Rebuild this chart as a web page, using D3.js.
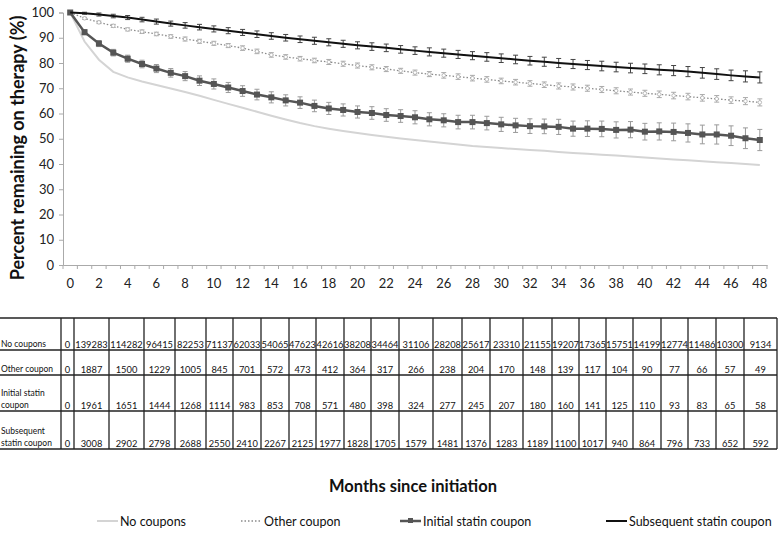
<!DOCTYPE html>
<html>
<head>
<meta charset="utf-8">
<script src="https://cdn.jsdelivr.net/npm/d3@7"></script>
<style>
  body { margin: 0; background: #fff; }
  svg { display: block; font-family: Lato, "Open Sans", sans-serif; }
</style>
</head>
<body>
<div id="chart"></div>
<script>
// months 0..48
var months = d3.range(0, 49);

// percent remaining on therapy
var noCoupons = [100, 88.5, 81.3, 76.5, 74.3, 72.7, 71.3, 69.9, 68.5, 67.0, 65.4, 63.8, 62.3, 60.7, 59.1, 57.6, 56.2,
  55.0, 54.0, 53.1, 52.3, 51.5, 50.8, 50.1, 49.5, 48.9, 48.3, 47.7, 47.1, 46.7, 46.3, 45.9, 45.5,
  45.2, 44.8, 44.4, 44.1, 43.7, 43.4, 43.0, 42.6, 42.2, 41.8, 41.5, 41.1, 40.7, 40.4, 40.0, 39.6];
var otherCoupon = [100, 97.7, 96.1, 94.7, 93.3, 92.4, 91.5, 90.5, 89.5, 88.6, 87.8, 86.9, 85.9, 84.6, 83.2, 82.4, 81.7,
  81.0, 80.4, 79.7, 79.0, 78.3, 77.6, 76.9, 76.2, 75.6, 75.1, 74.6, 74.0, 73.5, 72.9, 72.4, 71.9,
  71.4, 70.9, 70.5, 70.0, 69.5, 69.0, 68.5, 68.0, 67.6, 67.1, 66.7, 66.2, 65.8, 65.3, 64.9, 64.4];
var otherErr = [0, 0.4, 0.5, 0.6, 0.6, 0.7, 0.7, 0.7, 0.8, 0.8, 0.8, 0.8, 0.9, 0.9, 0.9, 0.9, 0.9,
  0.9, 1.0, 1.0, 1.0, 1.0, 1.0, 1.0, 1.0, 1.0, 1.1, 1.1, 1.1, 1.1, 1.1, 1.1, 1.1,
  1.1, 1.2, 1.2, 1.2, 1.2, 1.2, 1.2, 1.2, 1.3, 1.3, 1.3, 1.3, 1.3, 1.3, 1.4, 1.4];
var initialCoupon = [100, 92.2, 87.7, 84.1, 81.7, 79.6, 77.8, 76.1, 74.8, 73.0, 71.7, 70.3, 68.9, 67.5, 66.4, 65.2, 64.3,
  63.0, 62.0, 61.4, 60.6, 60.2, 59.4, 59.0, 58.5, 57.7, 57.3, 56.6, 56.6, 56.2, 55.7, 55.3, 55.0,
  54.9, 54.7, 54.0, 54.0, 53.9, 53.5, 53.6, 52.8, 52.9, 52.7, 52.3, 51.7, 51.7, 51.2, 50.2, 49.5];
var initialErr = [0, 1.0, 1.2, 1.3, 1.4, 1.5, 1.6, 1.7, 1.8, 1.9, 2.0, 2.0, 2.1, 2.1, 2.2, 2.2, 2.3,
  2.3, 2.4, 2.4, 2.4, 2.5, 2.5, 2.5, 2.6, 2.6, 2.6, 2.7, 2.7, 2.7, 2.8, 2.8, 2.9,
  2.9, 3.0, 3.0, 3.1, 3.1, 3.2, 3.2, 3.3, 3.4, 3.5, 3.6, 3.7, 3.8, 3.9, 4.1, 4.2];
var subsequentCoupon = [100, 99.7, 99.2, 98.6, 98.0, 97.2, 96.4, 95.6, 94.9, 94.2, 93.5, 92.8, 92.1, 91.4, 90.7, 90.0, 89.4,
  88.8, 88.2, 87.6, 87.0, 86.5, 86.0, 85.4, 84.9, 84.4, 83.9, 83.4, 82.9, 82.4, 81.9, 81.4, 80.9,
  80.5, 80.0, 79.6, 79.2, 78.8, 78.4, 78.0, 77.7, 77.3, 77.0, 76.6, 76.1, 75.6, 75.1, 74.7, 74.3];
var subsequentErr = [0, 0.4, 0.6, 0.7, 0.8, 0.9, 1.0, 1.0, 1.1, 1.1, 1.2, 1.2, 1.2, 1.3, 1.3, 1.3, 1.3,
  1.4, 1.4, 1.4, 1.4, 1.5, 1.5, 1.5, 1.5, 1.6, 1.6, 1.6, 1.6, 1.7, 1.7, 1.7, 1.7,
  1.8, 1.8, 1.8, 1.8, 1.9, 1.9, 1.9, 1.9, 2.0, 2.0, 2.0, 2.1, 2.1, 2.1, 2.2, 2.2];

var yTicks = [0, 10, 20, 30, 40, 50, 60, 70, 80, 90, 100];

// number at risk table
var rowLabels = [["No coupons"], ["Other coupon"], ["Initial statin", "coupon"], ["Subsequent", "statin coupon"]];
var atRiskNone = [0, 139283, 114282, 96415, 82253, 71137, 62033, 54065, 47623, 42616, 38208, 34464, 31106,
  28208, 25617, 23310, 21155, 19207, 17365, 15751, 14199, 12774, 11486, 10300, 9134];
var atRiskOther = [0, 1887, 1500, 1229, 1005, 845, 701, 572, 473, 412, 364, 317, 266,
  238, 204, 170, 148, 139, 117, 104, 90, 77, 66, 57, 49];
var atRiskInitial = [0, 1961, 1651, 1444, 1268, 1114, 983, 853, 708, 571, 480, 398, 324,
  277, 245, 207, 180, 160, 141, 125, 110, 93, 83, 65, 58];
var atRiskSubsequent = [0, 3008, 2902, 2798, 2688, 2550, 2410, 2267, 2125, 1977, 1828, 1705, 1579,
  1481, 1376, 1283, 1189, 1100, 1017, 940, 864, 796, 733, 652, 592];

var legendNames = ["No coupons", "Other coupon", "Initial statin coupon", "Subsequent statin coupon"];

// layout of the pasted table (cell edges, px)
var colEdges = [0, 61, 74, 109, 144, 175, 206, 233, 261, 289, 316, 344, 371, 399, 433, 462, 490,
  523, 552, 579, 606, 633, 661, 688, 716, 744, 777];
var rowEdges = [318, 350, 375, 411, 449];

var W = 778, H = 533;
var svg = d3.select("#chart").append("svg")
  .attr("width", W).attr("height", H);

var x = d3.scaleBand().domain(months).range([63, 767]).padding(0);
var y = d3.scaleLinear().domain([0, 100]).range([265, 12.5]);
var cx = function(m) { return x(m) + x.bandwidth() / 2; };

// y axis
var yAxis = svg.append("g")
  .attr("transform", "translate(63,0)")
  .call(d3.axisLeft(y).tickValues(yTicks).tickSize(4).tickPadding(5));
yAxis.selectAll("line").attr("stroke", "#aaa");
yAxis.select(".domain").attr("stroke", "#aaa");
yAxis.selectAll("text").attr("font-size", 13).attr("fill", "#222")
  .attr("font-family", "Lato, sans-serif");

// x axis, labels every 2 months, tick marks between months
var xAxis = svg.append("g")
  .attr("transform", "translate(0,265)")
  .call(d3.axisBottom(x).tickValues(months.filter(function(m) { return m % 2 == 0; }))
    .tickSize(0).tickPadding(14));
xAxis.select(".domain").attr("stroke", "#aaa");
xAxis.selectAll("text").attr("font-size", 13).attr("fill", "#222")
  .attr("font-family", "Lato, sans-serif");
svg.append("g").selectAll("line")
  .data(months.concat([49]))
  .enter().append("line")
  .attr("x1", function(m) { return m < 49 ? x(m) : x(48) + x.bandwidth(); })
  .attr("x2", function(m) { return m < 49 ? x(m) : x(48) + x.bandwidth(); })
  .attr("y1", 265).attr("y2", 269)
  .attr("stroke", "#aaa");

svg.append("text")
  .attr("transform", "translate(24,148) rotate(-90)")
  .attr("text-anchor", "middle")
  .attr("font-size", 18).attr("font-weight", "bold").attr("fill", "#111")
  .text("Percent remaining on therapy (%)");

// series
var line = function(vals) {
  return d3.line().x(function(d, i) { return cx(i); }).y(function(d) { return y(d); })(vals);
};

function errorBars(vals, errs, color) {
  var g = svg.append("g").attr("stroke", color).attr("stroke-width", 1);
  months.forEach(function(m) {
    if (!errs[m]) return;
    var lo = y(vals[m] - errs[m]), hi = y(vals[m] + errs[m]);
    g.append("line").attr("x1", cx(m)).attr("x2", cx(m)).attr("y1", lo).attr("y2", hi);
    g.append("line").attr("x1", cx(m) - 2.5).attr("x2", cx(m) + 2.5).attr("y1", lo).attr("y2", lo);
    g.append("line").attr("x1", cx(m) - 2.5).attr("x2", cx(m) + 2.5).attr("y1", hi).attr("y2", hi);
  });
}

svg.append("path").attr("d", line(noCoupons))
  .attr("fill", "none").attr("stroke", "#d4d4d4").attr("stroke-width", 2);

errorBars(otherCoupon, otherErr, "#aaa");
svg.append("path").attr("d", line(otherCoupon))
  .attr("fill", "none").attr("stroke", "#8a8a8a").attr("stroke-width", 1.3)
  .attr("stroke-dasharray", "1.5,2");
svg.append("g").selectAll("circle").data(otherCoupon).enter().append("circle")
  .attr("cx", function(d, i) { return cx(i); }).attr("cy", function(d) { return y(d); })
  .attr("r", 1.8).attr("fill", "#fff").attr("stroke", "#aaa").attr("stroke-width", 0.8);

errorBars(initialCoupon, initialErr, "#9a9a9a");
svg.append("path").attr("d", line(initialCoupon))
  .attr("fill", "none").attr("stroke", "#555").attr("stroke-width", 2.5);
svg.append("g").selectAll("rect").data(initialCoupon).enter().append("rect")
  .attr("x", function(d, i) { return cx(i) - 3; }).attr("y", function(d) { return y(d) - 3; })
  .attr("width", 6).attr("height", 6).attr("fill", "#555");

errorBars(subsequentCoupon, subsequentErr, "#444");
svg.append("path").attr("d", line(subsequentCoupon))
  .attr("fill", "none").attr("stroke", "#111").attr("stroke-width", 2);

// at-risk table
var table = svg.append("g").attr("stroke", "#222").attr("stroke-width", 1.3);
rowEdges.forEach(function(r) {
  table.append("line").attr("x1", 0).attr("x2", 777).attr("y1", r).attr("y2", r);
});
colEdges.slice(1).forEach(function(c) {
  table.append("line").attr("x1", c).attr("x2", c).attr("y1", rowEdges[0]).attr("y2", rowEdges[4]);
});

var rows = [atRiskNone, atRiskOther, atRiskInitial, atRiskSubsequent];
rows.forEach(function(vals, r) {
  var bottom = rowEdges[r + 1];
  var lab = rowLabels[r];
  lab.forEach(function(t, k) {
    svg.append("text")
      .attr("x", 1).attr("y", bottom - 3 - (lab.length - 1 - k) * 12)
      .attr("font-size", 8.5).attr("fill", "#111").text(t);
  });
  vals.forEach(function(v, c) {
    svg.append("text")
      .attr("x", (colEdges[c + 1] + colEdges[c + 2]) / 2)
      .attr("y", bottom - 2.5)
      .attr("text-anchor", "middle")
      .attr("font-size", 9.3).attr("fill", "#111")
      .text(v);
  });
});

svg.append("text")
  .attr("x", 413).attr("y", 492)
  .attr("text-anchor", "middle")
  .attr("font-size", 16.5).attr("font-weight", "bold").attr("fill", "#111")
  .text("Months since initiation");

// legend
var legX = [97, 241, 400, 606];
var legend = svg.append("g");
legendNames.forEach(function(name, i) {
  var g = legend.append("g").attr("transform", "translate(" + legX[i] + ",521)");
  var ln = g.append("line").attr("x1", 0).attr("x2", 21).attr("y1", 0).attr("y2", 0);
  if (i == 0) ln.attr("stroke", "#d4d4d4").attr("stroke-width", 2);
  if (i == 1) ln.attr("stroke", "#8a8a8a").attr("stroke-width", 1.3).attr("stroke-dasharray", "1.5,2");
  if (i == 2) {
    ln.attr("stroke", "#555").attr("stroke-width", 2.5);
    g.append("rect").attr("x", 8).attr("y", -3).attr("width", 5).attr("height", 5).attr("fill", "#555");
  }
  if (i == 3) ln.attr("stroke", "#111").attr("stroke-width", 2);
  g.append("text").attr("x", 23).attr("y", 4.5)
    .attr("font-size", 12.5).attr("fill", "#111").text(name);
});
</script>
</body>
</html>
